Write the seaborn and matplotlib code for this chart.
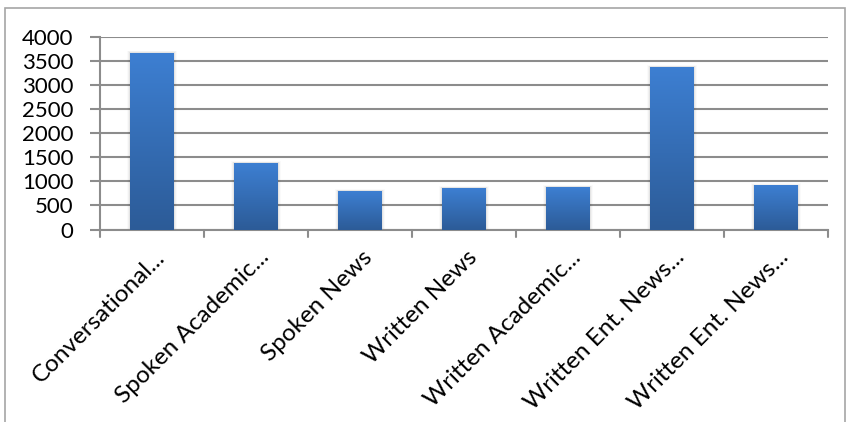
import numpy as np
import pandas as pd
import matplotlib
matplotlib.use("Agg")
import matplotlib.pyplot as plt
from matplotlib.patches import Rectangle
from matplotlib.colors import LinearSegmentedColormap
from matplotlib.transforms import ScaledTranslation
import seaborn as sns

categories = [
    "Conversational...",
    "Spoken Academic...",
    "Spoken News",
    "Written News",
    "Written Academic...",
    "Written Ent. News...",
    "Written Ent. News...",
]
values = [3670, 1380, 800, 860, 880, 3370, 920]
y_ticks = [0, 500, 1000, 1500, 2000, 2500, 3000, 3500, 4000]

sns.set_theme(style="white")
plt.rcParams["font.family"] = ["Lato", "DejaVu Sans"]

fig = plt.figure(figsize=(8.49, 4.22), dpi=100)
ax = fig.add_axes([100 / 849, 1 - 229.5 / 422, (828 - 100) / 849, (229.5 - 36.7) / 422])

df = pd.DataFrame({"category": range(len(categories)), "value": values})
sns.barplot(data=df, x="category", y="value", ax=ax, width=0.42,
            color="#3a78c6", saturation=1, edgecolor="none", zorder=3)

# vertical blue gradient inside each bar
grad = LinearSegmentedColormap.from_list("bar", ["#2c5b97", "#3d7fd2"])
for p in list(ax.patches):
    x0, y0 = p.get_x(), p.get_y()
    w, h = p.get_width(), p.get_height()
    # soft shadow behind the bar
    for k, a in enumerate([0.05, 0.035, 0.02]):
        d = 0.01 * (k + 1)
        ax.add_patch(Rectangle((x0 - d, y0), w + 2 * d, h + 40 * (k + 1) / 3,
                               facecolor="black", alpha=a, edgecolor="none", zorder=2))
    img = ax.imshow(np.linspace(0, 1, 256).reshape(-1, 1), cmap=grad, origin="lower",
                    aspect="auto", extent=(x0, x0 + w, y0, y0 + h), zorder=4)
    img.set_clip_path(p)

ax.set_xlim(-0.5, len(categories) - 0.5)
ax.set_ylim(0, 4000)
ax.set_yticks(y_ticks)
ax.set_yticklabels([str(t) for t in y_ticks], fontsize=16, color="black")
ax.set_xticks(range(len(categories)))
ax.set_xticklabels([])
ax.set_xlabel("")
ax.set_ylabel("")

# rotated category labels, ending just right of and below each category centre
offset = ScaledTranslation(14 / 100, -29 / 100, fig.dpi_scale_trans)
for i, name in enumerate(categories):
    ax.text(i, 0, name, rotation=45, ha="right", va="baseline",
            rotation_mode="anchor", fontsize=17.5, color="black",
            transform=ax.get_xaxis_transform() + offset)

ax.grid(axis="y", color="#8c8c8c", linewidth=1.5, zorder=0)
ax.set_axisbelow(True)
for s in ["top", "right"]:
    ax.spines[s].set_visible(False)
for s in ["left", "bottom"]:
    ax.spines[s].set_color("#8c8c8c")
    ax.spines[s].set_linewidth(1.5)

# category dividers as tick marks below the axis
ax.tick_params(axis="x", length=0)
ax.tick_params(axis="y", left=True, length=7, color="#8c8c8c", width=1.5, pad=12)
for b in np.arange(-0.5, len(categories), 1.0):
    ax.plot([b, b], [0, -0.04], transform=ax.get_xaxis_transform(),
            color="#8c8c8c", lw=1.5, clip_on=False, zorder=1)

# chart area border
fig.add_artist(Rectangle((5 / 849, -0.1), 840 / 849, 1.1 - 8 / 422,
                         transform=fig.transFigure, fill=False,
                         edgecolor="#a6a6a6", linewidth=1.2))

fig.savefig("out.png", dpi=100)
